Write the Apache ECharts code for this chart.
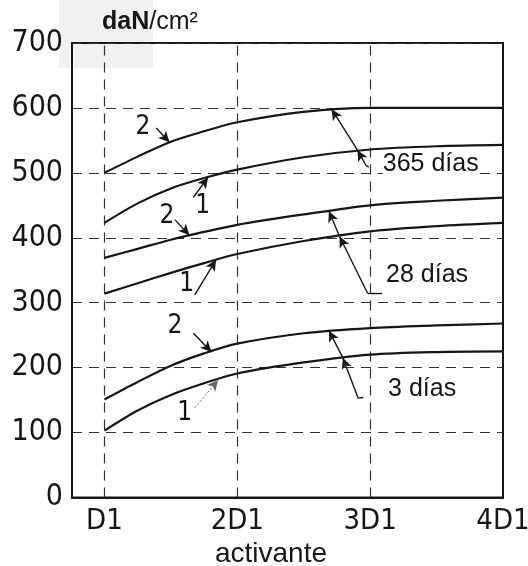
<!DOCTYPE html>
<html>
<head>
<meta charset="utf-8">
<script src="https://cdn.jsdelivr.net/npm/echarts@6/dist/echarts.min.js"></script>
<style>
  html, body { margin: 0; padding: 0; background: #fff; }
  #chart { width: 528px; height: 566px; }
</style>
</head>
<body>
<div id="chart"></div>
<script>
  // x positions (multiples of the activator dose D1) and the curves
  var xPos = [1, 1.25, 1.5, 1.75, 2, 2.5, 3, 3.5, 4];
  var xTicks = [1, 2, 3, 4];
  var xLabels = ['D1', '2D1', '3D1', '4D1'];

  var days365_2 = [500, 525, 548, 564, 578, 594, 600, 600, 600];
  var days365_1 = [423, 453, 476, 492, 505, 524, 536, 541, 543];
  var days28_2 = [369, 383, 397, 409, 420, 436, 450, 457, 462];
  var days28_1 = [314, 330, 346, 361, 375, 395, 410, 418, 423];
  var days3_2 = [151, 178, 203, 222, 237, 253, 261, 265, 268];
  var days3_1 = [103, 134, 158, 176, 191, 208, 220, 224, 225];

  // annotation tags "2" / "1" with their arrows (data space)
  var curveTags = [
    { text: '2', at: [1.29, 571], from: [1.39, 569], to: [1.49, 547] },
    { text: '1', at: [1.74, 448], from: [1.668, 462], to: [1.78, 493] },
    { text: '2', at: [1.47, 433], from: [1.53, 428], to: [1.64, 404] },
    { text: '1', at: [1.62, 328], from: [1.68, 312], to: [1.84, 366] },
    { text: '2', at: [1.53, 263], from: [1.67, 253], to: [1.806, 224] },
    { text: '1', at: [1.605, 130], from: [1.68, 138], to: [1.856, 181], faint: true }
  ];
  var ageTags = [
    { text: '365 días', at: [3.095, 514], path: [[2.99, 509], [2.97, 511], [2.905, 535], [2.71, 598]] },
    { text: '28 días', at: [3.12, 343], path: [[3.09, 315], [2.98, 315], [2.77, 402], [2.69, 441]] },
    { text: '3 días', at: [3.135, 167], path: [[2.95, 154], [2.91, 153], [2.795, 215], [2.69, 257]] }
  ];

  var NARROW = "'Liberation Sans Narrow', 'DejaVu Sans Condensed', sans-serif";
  var SANS = "'Liberation Sans', Arial, sans-serif";
  var INK = '#161616';

  function pairs(ys) {
    return xPos.map(function (x, i) { return [x, ys[i]]; });
  }

  var arrowLines = [];
  curveTags.forEach(function (t) {
    arrowLines.push([
      { coord: t.from, symbol: 'none', lineStyle: t.faint ? { width: 1, type: [2, 2], color: '#666' } : undefined },
      { coord: t.to, symbol: 'arrow' }
    ]);
  });
  ageTags.forEach(function (t) {
    for (var i = 0; i < t.path.length - 1; i++) {
      arrowLines.push([
        { coord: t.path[i], symbol: 'none' },
        { coord: t.path[i + 1], symbol: i === 0 ? 'none' : 'arrow' }
      ]);
    }
  });

  var curves = [days365_2, days365_1, days28_2, days28_1, days3_2, days3_1];
  var series = curves.map(function (ys, i) {
    var s = {
      type: 'line',
      data: pairs(ys),
      smooth: 0.3,
      symbol: 'none',
      silent: true,
      lineStyle: { color: INK, width: 2.2 },
      z: 3
    };
    if (i === 0) {
      s.markLine = {
        silent: true,
        symbolSize: [8, 11],
        label: { show: false },
        lineStyle: { color: INK, width: 1.4, type: 'solid' },
        data: arrowLines,
        z: 4
      };
    }
    if (i === 1) {
      s.markLine = {
        silent: true,
        symbol: 'none',
        label: { show: false },
        lineStyle: { color: '#333', width: 1.2, type: [10, 7] },
        data: xTicks.slice(0, 3).map(function (v) { return { xAxis: v }; }),
        z: 1
      };
    }
    return s;
  });

  var chart = echarts.init(document.getElementById('chart'));
  chart.setOption({
    backgroundColor: '#fff',
    animation: false,
    title: {
      text: '{b|daN}/cm²',
      left: 97,
      top: 5,
      textStyle: {
        fontFamily: SANS, fontSize: 25, color: INK, fontWeight: 'normal',
        rich: { b: { fontFamily: SANS, fontSize: 25, fontWeight: 'bold', color: INK } }
      }
    },
    grid: {
      left: 72, top: 43, right: 25, bottom: 68.5,
      outerBoundsMode: 'none',
      containLabel: false,
      show: true, borderColor: INK, borderWidth: 2
    },
    xAxis: {
      type: 'value',
      min: 0.756,
      max: 4,
      name: 'activante',
      nameLocation: 'middle',
      nameGap: 36,
      nameTextStyle: { fontFamily: SANS, fontSize: 28, color: INK, padding: [0, 33, 0, 0] },
      axisLine: { show: true, lineStyle: { color: INK, width: 2 } },
      axisTick: { show: false },
      splitLine: { show: false },
      axisLabel: {
        customValues: xTicks,
        margin: 9,
        fontFamily: NARROW, fontSize: 29, color: INK,
        formatter: function (v) { return xLabels[xTicks.indexOf(v)]; }
      }
    },
    yAxis: {
      type: 'value',
      min: 0,
      max: 700,
      interval: 100,
      axisLine: { show: true, lineStyle: { color: INK, width: 2 } },
      axisTick: { show: false },
      axisLabel: { margin: 9, fontFamily: NARROW, fontSize: 30, color: INK },
      splitLine: { show: true, lineStyle: { color: '#333', width: 1.2, type: [10, 7] } }
    },
    series: series
  });

  // tag texts placed through the chart's own scales
  var texts = [{
    type: 'rect', left: 59, top: 0, z: -10,
    shape: { width: 94, height: 68 },
    style: { fill: '#f1f1f1' }
  }];
  curveTags.forEach(function (t) {
    var p = chart.convertToPixel({ gridIndex: 0 }, t.at);
    texts.push({
      type: 'text', x: p[0], y: p[1], z: 10,
      style: { text: t.text, fontFamily: NARROW, fontSize: 26, fill: INK, align: 'center', verticalAlign: 'middle' }
    });
  });
  ageTags.forEach(function (t) {
    var p = chart.convertToPixel({ gridIndex: 0 }, t.at);
    texts.push({
      type: 'text', x: p[0], y: p[1], z: 10,
      style: { text: t.text, fontFamily: SANS, fontSize: 25, fill: INK, align: 'left', verticalAlign: 'middle', backgroundColor: '#fff' }
    });
  });
  chart.setOption({ graphic: texts });
</script>
</body>
</html>
